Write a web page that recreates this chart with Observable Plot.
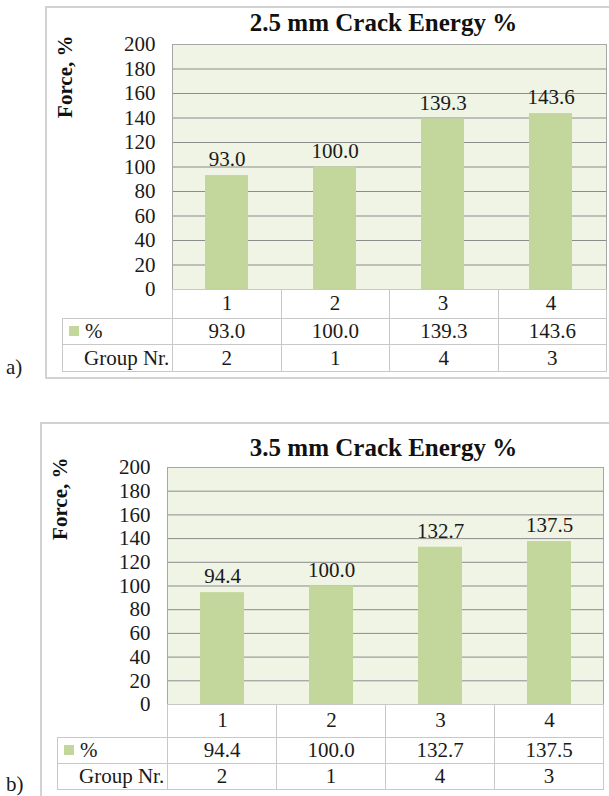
<!DOCTYPE html>
<html>
<head>
<meta charset="utf-8">
<script src="https://cdn.jsdelivr.net/npm/d3@7"></script>
<script src="https://cdn.jsdelivr.net/npm/@observablehq/plot@0.6"></script>
<style>
  html, body { margin: 0; padding: 0; background: #fff; }
  body { width: 609px; height: 796px; overflow: hidden; position: relative;
         font-family: 'Liberation Serif', serif; color: #1a1a1a; }
  .panel { position: absolute; border: 2px solid #d2d2d2; box-sizing: border-box; }
  .chart { position: absolute; left: 0; }
  .chart svg { display: block; }
  table.data { position: absolute; border-collapse: collapse; table-layout: fixed; font-size: 21px;
               font-family: 'Liberation Serif', serif; color: #1a1a1a; }
  table.data td { border: 1px solid #c8c8c8; text-align: center; padding: 0; line-height: 1; white-space: nowrap; }
  table.data td.blank { border-top: none; border-left: none; }
  table.data td.head { text-align: left; }
  .sw { display: inline-block; width: 10px; height: 10px; background: #c3d69b; margin-right: 6px; vertical-align: 2px; }
  .plabel { position: absolute; left: 6px; font-size: 21px; line-height: 1; font-family: 'Liberation Serif', serif; }
</style>
</head>
<body>
<script>
// ---- data ----
const categories = ["1", "2", "3", "4"];
const energy25 = [93.0, 100.0, 139.3, 143.6];
const group25 = [2, 1, 4, 3];
const energy35 = [94.4, 100.0, 132.7, 137.5];
const group35 = [2, 1, 4, 3];
const titles = ["2.5 mm Crack Energy %", "3.5 mm Crack Energy %"];
const yTicks = [0, 20, 40, 60, 80, 100, 120, 140, 160, 180, 200];
const yLabel = "Force, %";
const seriesLabel = "%";
const rowLabel = "Group Nr.";
const panelLabels = ["a)", "b)"];

// ---- layout ----
const FONT = "Liberation Serif";
const layouts = [
  { svgTop: 0, height: 380, mL: 172, mR: 3, mT: 44, mB: 91, titleDx: -6, titleDy: -22, labDx: -107, labDy: -9,
    xPad: 6, frame: {left: 45, top: 6, width: 580, height: 373},
    table: {left: 62, top: 289, first: 110, rows: [29, 26, 27]}, plabelTop: 357 },
  { svgTop: 400, height: 396, mL: 167, mR: 6, mT: 67, mB: 92, titleDx: -2, titleDy: -20, labDx: -107, labDy: -10,
    xPad: 8, frame: {left: 40, top: 422, width: 590, height: 400},
    table: {left: 57, top: 704, first: 110, rows: [33, 26, 26]}, plabelTop: 774 }
];
const seriesList = [[energy25, group25], [energy35, group35]];

layouts.forEach((L, k) => {
  const [values, groups] = seriesList[k];
  const data = categories.map((c, i) => ({cat: c, value: values[i], group: groups[i]}));

  const fr = document.createElement("div");
  fr.className = "panel";
  Object.assign(fr.style, {left: L.frame.left + "px", top: L.frame.top + "px",
    width: L.frame.width + "px", height: L.frame.height + "px"});
  document.body.appendChild(fr);

  const chart = Plot.plot({
    width: 609, height: L.height,
    marginLeft: L.mL, marginRight: L.mR, marginTop: L.mT, marginBottom: L.mB,
    style: {fontFamily: FONT, fontSize: "21px", color: "#1a1a1a", background: "transparent", overflow: "visible"},
    x: {domain: categories, paddingInner: 0.6, paddingOuter: 0.3, axis: null},
    y: {domain: [0, 200], axis: null},
    marks: [
      Plot.frame({fill: "#eff4e4", stroke: null}),
      Plot.gridY(yTicks, {stroke: "#8c8c8c", strokeOpacity: 1}),
      Plot.barY(data, {x: "cat", y: "value", fill: "#c3d69b"}),
      Plot.frame({stroke: "#a6a6a6"}),
      Plot.axisY(yTicks, {tickSize: 0, tickPadding: 17, fontSize: 21, fontFamily: FONT, label: null}),
      Plot.axisX({tickSize: 0, tickPadding: L.xPad, fontSize: 21, fontFamily: FONT, label: null}),
      Plot.text(data, {x: "cat", y: "value", text: d => d.value.toFixed(1), dy: -16,
        fontSize: 21, fontFamily: FONT, lineAnchor: "middle", fill: "#1a1a1a"}),
      Plot.text([titles[k]], {frameAnchor: "top", dx: L.titleDx, dy: L.titleDy, fontSize: 25, fontFamily: FONT,
        fontWeight: "bold", lineAnchor: "middle", fill: "#111"}),
      Plot.text([yLabel], {frameAnchor: "top-left", rotate: -90, textAnchor: "end", lineAnchor: "middle",
        dx: L.labDx, dy: L.labDy, fontSize: 21, fontFamily: FONT, fontWeight: "bold", fill: "#111"})
    ]
  });
  const wrap = document.createElement("div");
  wrap.className = "chart";
  wrap.style.top = L.svgTop + "px";
  wrap.appendChild(chart);
  document.body.appendChild(wrap);

  // data table below the plot
  const colW = (609 - L.mL - L.mR) / categories.length;
  const t = document.createElement("table");
  t.className = "data";
  t.style.left = L.table.left + "px";
  t.style.top = L.table.top + "px";
  t.style.width = (L.table.first + colW * categories.length) + "px";
  const cg = document.createElement("colgroup");
  [L.table.first, ...categories.map(() => colW)].forEach(w => {
    const c = document.createElement("col"); c.style.width = w + "px"; cg.appendChild(c);
  });
  t.appendChild(cg);
  const rows = [
    {head: null, cells: categories.map(() => "")},
    {head: `<span class="sw"></span>${seriesLabel}`, pad: 6, cells: values.map(v => v.toFixed(1))},
    {head: rowLabel, pad: 21, cells: groups.map(String)}
  ];
  rows.forEach((r, ri) => {
    const tr = document.createElement("tr");
    tr.style.height = L.table.rows[ri] + "px";
    const h = document.createElement("td");
    if (r.head === null) h.className = "blank";
    else { h.className = "head"; h.innerHTML = r.head; h.style.paddingLeft = r.pad + "px"; }
    tr.appendChild(h);
    r.cells.forEach(c => { const td = document.createElement("td"); td.textContent = c; tr.appendChild(td); });
    t.appendChild(tr);
  });
  document.body.appendChild(t);

  const pl = document.createElement("div");
  pl.className = "plabel";
  pl.style.top = L.plabelTop + "px";
  pl.textContent = panelLabels[k];
  document.body.appendChild(pl);
});
</script>
</body>
</html>
